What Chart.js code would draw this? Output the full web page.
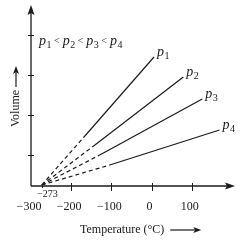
<!DOCTYPE html>
<html>
<head>
<meta charset="utf-8">
<script src="https://cdn.jsdelivr.net/npm/chart.js@4"></script>
<style>
  html, body { margin: 0; padding: 0; background: #fff; }
  canvas { display: block; }
</style>
</head>
<body>
<canvas id="chart" width="249" height="242"></canvas>
<script>
// Isobars: volume vs temperature, each extrapolated back to absolute zero
var seriesNames = ['p1', 'p2', 'p3', 'p4'];
var absZeroLabel = '−273';
var absZero = -273;
// points: [extrapolated origin, start of measured range, end]
var p1Temps = [-273, -166, 6];
var p1Vols = [1, 50, 129];
var p2Temps = [-273, -141, 79];
var p2Vols = [1, 41, 109];
var p3Temps = [-273, -129, 126];
var p3Vols = [1, 31, 87];
var p4Temps = [-273, -104, 169];
var p4Vols = [1, 21, 56];

var xTicks = [-200, -100, 0, 100];
var xTickValues = [-300, -200, -100, 0, 100];
var xTickLabels = ['−300', '−200', '−100', '0', '100'];
var yTicks = [31, 71, 111, 151];
var xTitle = 'Temperature (°C)';
var yTitle = 'Volume';

var INK = '#1a1a1a';
var SERIF = '"Liberation Serif", "DejaVu Serif", serif';

function pts(xs, ys) {
  return xs.map(function (x, i) { return { x: x, y: ys[i] }; });
}

function mkSet(name, xs, ys) {
  return {
    label: name,
    data: pts(xs, ys),
    showLine: true,
    borderColor: INK,
    borderWidth: 1.2,
    pointRadius: 0,
    fill: false,
    segment: {
      // first segment is the extrapolation -> dashed
      borderDash: function (c) { return c.p0DataIndex === 0 ? [4, 3] : undefined; }
    }
  };
}

function arrowHead(ctx, x, y, ang, len, half) {
  ctx.save();
  ctx.translate(x, y);
  ctx.rotate(ang);
  ctx.beginPath();
  ctx.moveTo(0, 0);
  ctx.lineTo(-len, -half);
  ctx.lineTo(-len + 2, 0);
  ctx.lineTo(-len, half);
  ctx.closePath();
  ctx.fill();
  ctx.restore();
}

// italic p with upright subscript digit, returns width
function drawP(ctx, name, x, y) {
  ctx.textAlign = 'left';
  ctx.textBaseline = 'alphabetic';
  ctx.font = 'italic 14px ' + SERIF;
  ctx.fillText('p', x, y);
  var w = ctx.measureText('p').width;
  ctx.font = '10px ' + SERIF;
  var sub = name.slice(1);
  ctx.fillText(sub, x + w + 0.5, y + 3);
  return w + 0.5 + ctx.measureText(sub).width;
}

var axesPlugin = {
  id: 'axesPlugin',
  afterDraw: function (chart) {
    var ctx = chart.ctx;
    var a = chart.chartArea;
    var xs = chart.scales.x;
    var ys = chart.scales.y;
    ctx.save();
    ctx.strokeStyle = INK;
    ctx.fillStyle = INK;
    ctx.lineWidth = 1.3;

    // 1. axis lines + arrows
    ctx.beginPath();
    ctx.moveTo(a.left, a.bottom);
    ctx.lineTo(a.left, a.top + 4);
    ctx.moveTo(a.left, a.bottom);
    ctx.lineTo(a.right - 4, a.bottom);
    ctx.stroke();
    arrowHead(ctx, a.left, a.top, -Math.PI / 2, 10, 3.5);
    arrowHead(ctx, a.right, a.bottom, 0, 10, 3.5);

    // 2. tick marks
    ctx.lineWidth = 1;
    ctx.beginPath();
    xTicks.forEach(function (v) {
      var px = Math.round(xs.getPixelForValue(v)) + 0.5;
      ctx.moveTo(px, a.bottom - 3);
      ctx.lineTo(px, a.bottom + 5);
    });
    yTicks.forEach(function (v) {
      var py = Math.round(ys.getPixelForValue(v)) + 0.5;
      ctx.moveTo(a.left - 3, py);
      ctx.lineTo(a.left + 3, py);
    });
    var zx = Math.round(xs.getPixelForValue(absZero)) + 0.5;
    ctx.moveTo(zx, a.bottom - 2);
    ctx.lineTo(zx, a.bottom + 2);
    ctx.stroke();

    // 3. tick labels
    ctx.textAlign = 'center';
    ctx.textBaseline = 'middle';
    ctx.font = '12px ' + SERIF;
    xTickValues.forEach(function (v, i) {
      ctx.fillText(xTickLabels[i], xs.getPixelForValue(v) - 2, a.bottom + 21);
    });
    ctx.font = '10px ' + SERIF;
    ctx.fillText(absZeroLabel, zx + 5, a.bottom + 8);

    // 4. axis titles with arrows
    ctx.font = '12px ' + SERIF;
    ctx.textAlign = 'left';
    var tx = 80, ty = a.bottom + 44;
    ctx.fillText(xTitle, tx, ty);
    var tw = ctx.measureText(xTitle).width;
    ctx.lineWidth = 1.2;
    ctx.beginPath();
    ctx.moveTo(tx + tw + 6, ty);
    ctx.lineTo(tx + tw + 32, ty);
    ctx.stroke();
    arrowHead(ctx, tx + tw + 37, ty, 0, 8, 3);

    ctx.save();
    ctx.translate(16, 127);
    ctx.rotate(-Math.PI / 2);
    ctx.fillText(yTitle, 0, 0);
    var vw = ctx.measureText(yTitle).width;
    ctx.beginPath();
    ctx.moveTo(vw + 3, 0);
    ctx.lineTo(vw + 19, 0);
    ctx.stroke();
    arrowHead(ctx, vw + 24, 0, 0, 8, 3);
    ctx.restore();

    // 5. series labels at line ends
    chart.data.datasets.forEach(function (ds, i) {
      var meta = chart.getDatasetMeta(i);
      var last = meta.data[meta.data.length - 1];
      drawP(ctx, ds.label, last.x + 3, last.y - 1);
    });

    // 6. pressure ordering note
    var hx = 39, hy = 45;
    seriesNames.forEach(function (n, i) {
      hx += drawP(ctx, n, hx, hy);
      if (i < seriesNames.length - 1) {
        ctx.font = '10px ' + SERIF;
        ctx.fillText('<', hx + 2.5, hy - 1);
        hx += ctx.measureText('<').width + 5.5;
      }
    });
    ctx.restore();
  }
};

new Chart(document.getElementById('chart'), {
  type: 'scatter',
  data: {
    datasets: [
      mkSet(seriesNames[0], p1Temps, p1Vols),
      mkSet(seriesNames[1], p2Temps, p2Vols),
      mkSet(seriesNames[2], p3Temps, p3Vols),
      mkSet(seriesNames[3], p4Temps, p4Vols)
    ]
  },
  options: {
    responsive: false,
    animation: false,
    layout: { padding: { left: 31, right: 14, top: 5, bottom: 56 } },
    plugins: { legend: { display: false }, tooltip: { enabled: false } },
    scales: {
      x: { type: 'linear', min: -300, max: 207.5, display: false },
      y: { type: 'linear', min: 0, max: 181, display: false }
    }
  },
  plugins: [axesPlugin]
});
</script>
</body>
</html>
